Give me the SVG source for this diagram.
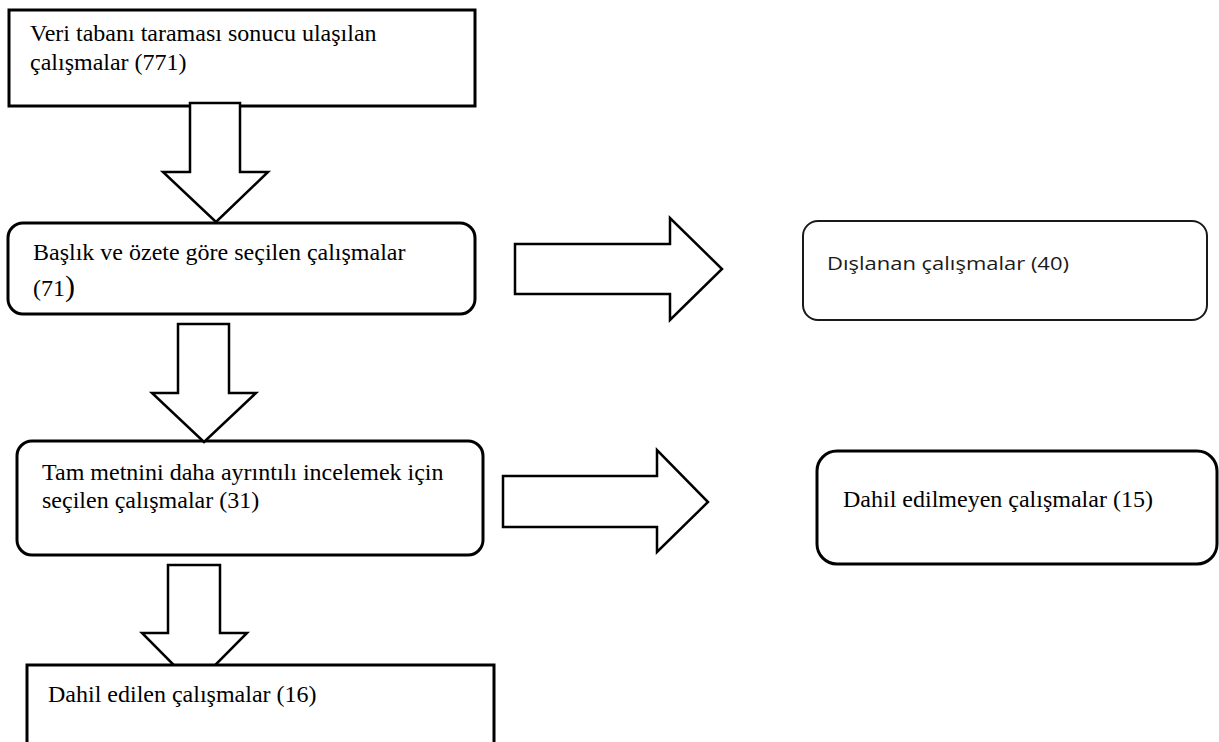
<svg xmlns="http://www.w3.org/2000/svg" width="1219" height="742" viewBox="0 0 1219 742">
<style>
.box{fill:#fff;stroke:#000;stroke-width:3}
.box2{fill:#fff;stroke:#1a1a1a;stroke-width:2}
.arr{fill:#fff;stroke:#000;stroke-width:2.5;stroke-linejoin:miter}
.t{font-family:"Liberation Serif","Times New Roman",serif;font-size:24px;fill:#000}
.s{font-family:"Open Sans","Noto Sans",sans-serif;font-size:18px;fill:#1a1a1a}
</style>
<rect width="1219" height="742" fill="#fff"/>
<g id="n1">
<rect class="box" x="9" y="10" width="466" height="96"/>
<text class="t" x="30" y="41">Veri tabanı taraması sonucu ulaşılan</text>
<text class="t" x="30" y="70">çalışmalar (771)</text>
</g>
<g id="n2">
<rect class="box" x="8" y="223" width="467" height="91" rx="15" ry="15"/>
<text class="t" x="33" y="260">Başlık ve özete göre seçilen çalışmalar</text>
<text class="t" x="33" y="296">(71<tspan font-size="30">)</tspan></text>
</g>
<g id="n3">
<rect class="box" x="17" y="441" width="466" height="114" rx="15" ry="15"/>
<text class="t" x="42" y="480">Tam metnini daha ayrıntılı incelemek için</text>
<text class="t" x="42" y="508">seçilen çalışmalar (31)</text>
</g>
<g id="n5">
<rect class="box2" x="803" y="221" width="404" height="99" rx="15" ry="15"/>
<text class="s" x="827" y="270" textLength="242" lengthAdjust="spacingAndGlyphs">Dışlanan çalışmalar (40)</text>
</g>
<g id="n6">
<rect class="box" x="817" y="451" width="400" height="113" rx="20" ry="20"/>
<text class="t" x="843" y="507">Dahil edilmeyen çalışmalar (15)</text>
</g>
<g id="connectors">
<polygon class="arr" points="190,103 240,103 240,172 268,172 216,222 163,172 190,172"/>
<polygon class="arr" points="178,324 229,324 229,393 256,393 204,442 152,393 178,393"/>
<polygon class="arr" points="168,565 220,565 220,633 247,633 194.5,686 142,633 168,633"/>
<polygon class="arr" points="515,244 670,244 670,218 722,269 670,320 670,294 515,294"/>
<polygon class="arr" points="503,476 657,476 657,450 708,502 657,552 657,527 503,527"/>
</g>
<g id="n4">
<path class="box" d="M27,745 L27,665 L494,665 L494,745"/>
<text class="t" x="48" y="702">Dahil edilen çalışmalar (16)</text>
</g>
</svg>
